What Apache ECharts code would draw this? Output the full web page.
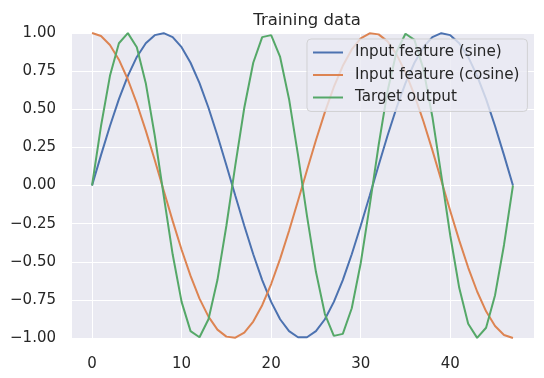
<!DOCTYPE html>
<html>
<head>
<meta charset="utf-8">
<script src="https://cdn.jsdelivr.net/npm/echarts@6/dist/echarts.min.js"></script>
<style>
  html, body { margin: 0; padding: 0; background: #fff; }
  #chart { width: 544px; height: 378px; }
</style>
</head>
<body>
<div id="chart"></div>
<script>
// time steps 0..47
const steps = [0, 1, 2, 3, 4, 5, 6, 7, 8, 9, 10, 11, 12, 13, 14, 15, 16, 17, 18, 19, 20, 21, 22, 23,
  24, 25, 26, 27, 28, 29, 30, 31, 32, 33, 34, 35, 36, 37, 38, 39, 40, 41, 42, 43, 44, 45, 46, 47];

const sineFeature = [0, 0.199, 0.390, 0.566, 0.719, 0.843, 0.933, 0.986, 0.999, 0.973, 0.907, 0.805,
  0.671, 0.510, 0.328, 0.133, -0.067, -0.264, -0.451, -0.620, -0.763, -0.877, -0.955, -0.995,
  -0.995, -0.955, -0.877, -0.763, -0.620, -0.451, -0.264, -0.067, 0.133, 0.328, 0.510, 0.671,
  0.805, 0.907, 0.973, 0.999, 0.986, 0.933, 0.843, 0.719, 0.566, 0.390, 0.199, 0];

const cosineFeature = [1, 0.980, 0.921, 0.825, 0.695, 0.538, 0.360, 0.167, -0.033, -0.232, -0.421, -0.593,
  -0.742, -0.860, -0.945, -0.991, -0.998, -0.965, -0.892, -0.785, -0.646, -0.481, -0.297, -0.100,
  0.100, 0.297, 0.481, 0.646, 0.785, 0.892, 0.965, 0.998, 0.991, 0.945, 0.860, 0.742,
  0.593, 0.421, 0.232, 0.033, -0.167, -0.360, -0.538, -0.695, -0.825, -0.921, -0.980, -1];

const targetOutput = [0, 0.390, 0.719, 0.933, 0.999, 0.907, 0.671, 0.328, -0.067, -0.451, -0.763, -0.955,
  -0.995, -0.877, -0.620, -0.264, 0.133, 0.510, 0.805, 0.973, 0.986, 0.843, 0.566, 0.199,
  -0.199, -0.566, -0.843, -0.986, -0.973, -0.805, -0.510, -0.133, 0.264, 0.620, 0.877, 0.995,
  0.955, 0.763, 0.451, 0.067, -0.328, -0.671, -0.907, -0.999, -0.933, -0.719, -0.390, 0];

const seriesNames = ["Input feature (sine)", "Input feature (cosine)", "Target output"];
const lineColor = ["#4c72b0", "#dd8452", "#55a868"];

const chart = echarts.init(document.getElementById("chart"));
const textColor = "#262626";
const font = "DejaVu Sans";

const series = [sineFeature, cosineFeature, targetOutput].map((vals, key) => ({
  name: seriesNames[key],
  type: "line",
  data: steps.map((s, i) => [s, vals[i]]),
  showSymbol: false,
  symbol: "none",
  color: lineColor[key],
  lineStyle: { color: lineColor[key], width: 2 },
  animation: false
}));

chart.setOption({
  backgroundColor: "#fff",
  title: {
    text: "Training data",
    left: 302,
    textAlign: "center",
    top: 7,
    textStyle: { fontFamily: font, fontSize: 16.5, fontWeight: "normal", color: textColor }
  },
  grid: {
    left: 71,
    right: 10,
    top: 33,
    bottom: 40,
    show: true,
    backgroundColor: "#eaeaf2",
    borderWidth: 0
  },
  legend: {
    orient: "vertical",
    left: 307,
    top: 39,
    z: 10,
    icon: "rect",
    itemWidth: 30,
    itemHeight: 2,
    itemGap: 7.5,
    padding: [6, 8, 6.5, 6],
    backgroundColor: "rgba(234,234,242,0.8)",
    borderColor: "rgba(204,204,204,0.8)",
    borderWidth: 1,
    borderRadius: 4,
    data: seriesNames,
    textStyle: {
      fontFamily: font,
      fontSize: 15.2,
      lineHeight: 15,
      color: textColor,
      padding: [0, 0, 0, 7]
    }
  },
  xAxis: {
    type: "value",
    min: -2.35,
    max: 49.35,
    splitNumber: 5,
    axisLine: { show: false },
    axisTick: { show: false },
    splitLine: { show: true, lineStyle: { color: "#fff", width: 1 } },
    axisLabel: {
      showMinLabel: false,
      showMaxLabel: false,
      margin: 19,
      fontFamily: font,
      fontSize: 15,
      color: textColor
    }
  },
  yAxis: {
    type: "value",
    min: -1,
    max: 1,
    interval: 0.25,
    axisLine: { show: false },
    axisTick: { show: false },
    splitLine: { show: true, lineStyle: { color: "#fff", width: 1 } },
    axisLabel: {
      margin: 15,
      fontFamily: font,
      fontSize: 15,
      color: textColor,
      formatter: v => (v < 0 ? "\u2212" : "") + Math.abs(v).toFixed(2)
    }
  },
  series: series
});
</script>
</body>
</html>
